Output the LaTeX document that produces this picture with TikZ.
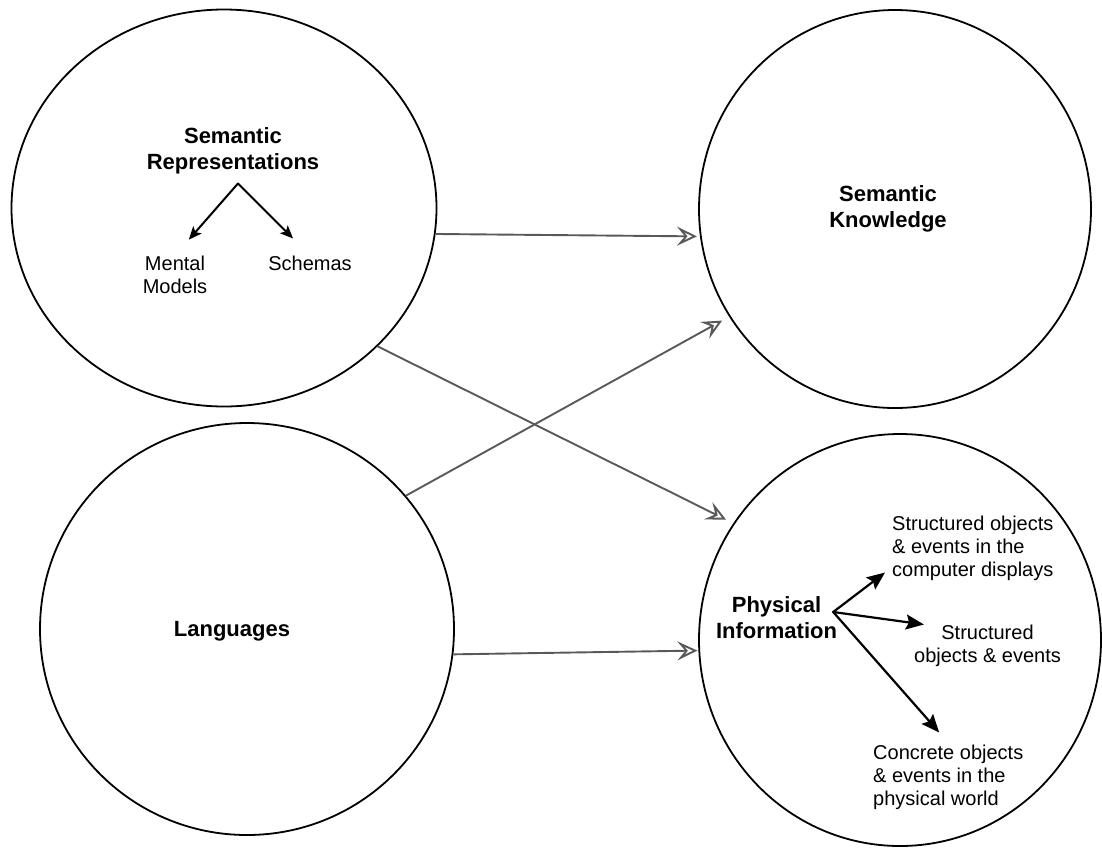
\documentclass[tikz,border=0pt]{standalone}
\usepackage{fontspec}
\setmainfont{Liberation Sans}
\usetikzlibrary{shapes.geometric,arrows.meta}
\begin{document}
\begin{tikzpicture}[x=1pt,y=-1pt,
  area/.style={draw,ellipse,line width=1.8pt,inner sep=0pt},
  headtext/.style={font=\fontsize{22}{26}\selectfont\bfseries,align=center,inner sep=0pt},
  item/.style={font=\fontsize{20}{23}\selectfont,inner sep=0pt},
  link/.style={draw=black!65,line width=1.9pt,-{Stealth[open,length=20pt,width=19pt,inset=8pt]}},
  subarr/.style={line width=2pt,line cap=round,-{Stealth[length=13pt,width=11pt,inset=3pt]}},
  bigarr/.style={line width=2.2pt,line cap=round,-{Stealth[length=18pt,width=15pt,inset=3pt]}}]
  \useasboundingbox (0,0) rectangle (1102,847);
  % the four areas
  \node[area,minimum width=425pt,minimum height=397pt] (sr) at (224,208) {};
  \node[area,minimum width=392pt,minimum height=398pt] (sk) at (895,209) {};
  \node[area,minimum width=414pt,minimum height=412pt] (lg) at (247,629) {};
  \node[area,minimum width=402pt,minimum height=412pt] (pi) at (900,640) {};
  % labels
  \node[headtext] (srl) at (233,151) {Semantic\\Representations};
  \node[item,align=center] (mm) at (175,274.5) {Mental\\Models};
  \node[item] (sch) at (310,263) {Schemas};
  \node[headtext] (skl) at (888,209) {Semantic\\Knowledge};
  \node[headtext] (lgl) at (232,631) {Languages};
  \node[headtext] (pil) at (776.5,618) {Physical\\Information};
  \node[item,align=left,anchor=west] (csd) at (892,548) {Structured objects\\\& events in the\\computer displays};
  \node[item,align=center] (sob) at (987.5,645.5) {Structured\\objects \& events};
  \node[item,align=left,anchor=west] (cow) at (873,777) {Concrete objects\\\& events in the\\physical world};
  % arrows inside the areas
  \coordinate (apex) at ([xshift=5pt,yshift=-9pt]srl.south);
  \draw[subarr,shorten >=21pt] (apex) -- (mm.north);
  \draw[subarr,shorten >=24pt] (apex) -- (sch.north);
  \coordinate (pisrc) at ([xshift=-4pt,yshift=6pt]pil.east);
  \draw[bigarr] (pisrc) -- ([xshift=-7pt,yshift=8pt]csd.south west);
  \draw[bigarr] (pisrc) -- ([xshift=10pt]sob.north west);
  \draw[bigarr] (pisrc) -- ([xshift=-9pt,yshift=12pt]cow.north);
  % links between the areas
  \draw[link,shorten >=3pt] (sr.-7) -- (sk.-172);
  \draw[link,shorten >=8pt] (sr.-42) -- (pi.145);
  \draw[link,shorten >=8pt] (lg.40) -- (sk.-147);
  \draw[link,shorten >=1pt] (lg.-7) -- (pi.-177);
\end{tikzpicture}
\end{document}
